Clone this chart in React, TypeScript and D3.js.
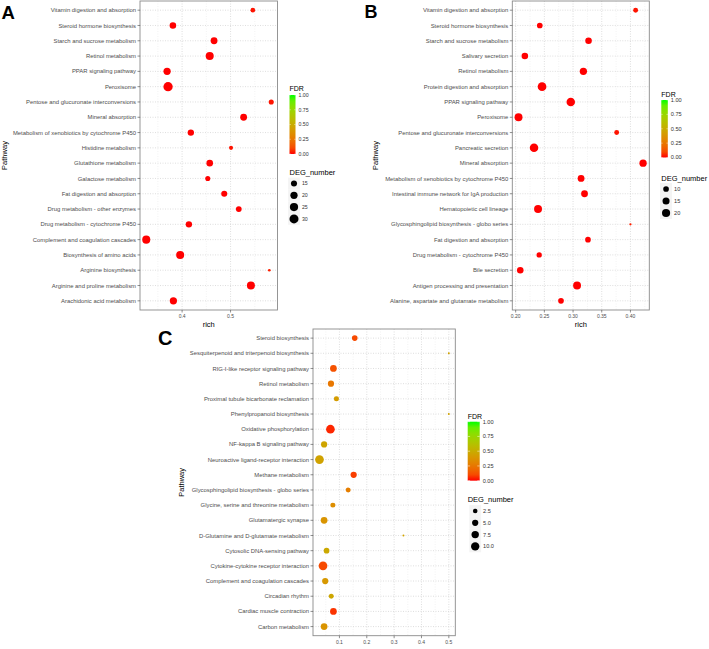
import React from "react";
import * as d3 from "d3";

const pathwaysA = [
  "Vitamin digestion and absorption",
  "Steroid hormone biosynthesis",
  "Starch and sucrose metabolism",
  "Retinol metabolism",
  "PPAR signaling pathway",
  "Peroxisome",
  "Pentose and glucuronate interconversions",
  "Mineral absorption",
  "Metabolism of xenobiotics by cytochrome P450",
  "Histidine metabolism",
  "Glutathione metabolism",
  "Galactose metabolism",
  "Fat digestion and absorption",
  "Drug metabolism - other enzymes",
  "Drug metabolism - cytochrome P450",
  "Complement and coagulation cascades",
  "Biosynthesis of amino acids",
  "Arginine biosynthesis",
  "Arginine and proline metabolism",
  "Arachidonic acid metabolism",
];
const richA = [0.546, 0.381, 0.466, 0.457, 0.369, 0.371, 0.584, 0.527, 0.418, 0.501, 0.457, 0.453, 0.487, 0.517, 0.414, 0.326, 0.396, 0.58, 0.542, 0.382];
const degA = [11, 17, 18, 24, 20, 32, 12, 18, 16, 10, 17, 12, 15, 14, 16, 24, 24, 9, 24, 20];
const fdrA = [0.01, 0.0, 0.0, 0.0, 0.0, 0.0, 0.01, 0.0, 0.0, 0.01, 0.0, 0.0, 0.0, 0.0, 0.0, 0.0, 0.0, 0.02, 0.0, 0.0];
const sizeLegendA = [15, 20, 25, 30];

const pathwaysB = [
  "Vitamin digestion and absorption",
  "Steroid hormone biosynthesis",
  "Starch and sucrose metabolism",
  "Salivary secretion",
  "Retinol metabolism",
  "Protein digestion and absorption",
  "PPAR signaling pathway",
  "Peroxisome",
  "Pentose and glucuronate interconversions",
  "Pancreatic secretion",
  "Mineral absorption",
  "Metabolism of xenobiotics by cytochrome P450",
  "Intestinal immune network for IgA production",
  "Hematopoietic cell lineage",
  "Glycosphingolipid biosynthesis - globo series",
  "Fat digestion and absorption",
  "Drug metabolism - cytochrome P450",
  "Bile secretion",
  "Antigen processing and presentation",
  "Alanine, aspartate and glutamate metabolism",
];
const richB = [0.409, 0.242, 0.327, 0.216, 0.318, 0.246, 0.296, 0.205, 0.376, 0.232, 0.422, 0.314, 0.32, 0.239, 0.4, 0.326, 0.241, 0.208, 0.307, 0.279];
const degB = [8, 10, 13, 13, 16, 23, 22, 19, 8, 22, 16, 14, 14, 19, 5, 10, 9, 13, 19, 10];
const fdrB = [0.01, 0.0, 0.0, 0.0, 0.0, 0.0, 0.0, 0.0, 0.01, 0.0, 0.0, 0.0, 0.0, 0.0, 0.02, 0.0, 0.0, 0.0, 0.0, 0.0];
const sizeLegendB = [10, 15, 20];

const pathwaysC = [
  "Steroid biosynthesis",
  "Sesquiterpenoid and triterpenoid biosynthesis",
  "RIG-I-like receptor signaling pathway",
  "Retinol metabolism",
  "Proximal tubule bicarbonate reclamation",
  "Phenylpropanoid biosynthesis",
  "Oxidative phosphorylation",
  "NF-kappa B signaling pathway",
  "Neuroactive ligand-receptor interaction",
  "Methane metabolism",
  "Glycosphingolipid biosynthesis - globo series",
  "Glycine, serine and threonine metabolism",
  "Glutamatergic synapse",
  "D-Glutamine and D-glutamate metabolism",
  "Cytosolic DNA-sensing pathway",
  "Cytokine-cytokine receptor interaction",
  "Complement and coagulation cascades",
  "Circadian rhythm",
  "Cardiac muscle contraction",
  "Carbon metabolism",
];
const richC = [0.156, 0.5, 0.078, 0.069, 0.089, 0.5, 0.067, 0.044, 0.027, 0.152, 0.132, 0.076, 0.044, 0.334, 0.053, 0.04, 0.048, 0.07, 0.078, 0.044];
const degC = [4, 1, 6, 5, 3, 1, 11, 5, 11, 5, 3, 3, 6, 1, 4, 11, 5, 3, 6, 6];
const fdrC = [0.1, 0.45, 0.12, 0.25, 0.42, 0.45, 0.03, 0.46, 0.45, 0.07, 0.28, 0.35, 0.38, 0.45, 0.48, 0.1, 0.4, 0.47, 0.05, 0.38];
const sizeLegendC = [2.5, 5, 7.5, 10];

const fdrLegendTicks = [0, 0.25, 0.5, 0.75, 1];

const FONT = "'Liberation Sans', Arial, Helvetica, sans-serif";
const colorOf = (f: number) => d3.interpolateLab("#ff0000", "#00ff00")(f);

type PanelProps = {
  id: string;
  letter: string;
  letterX: number;
  letterY: number;
  letterSize: number;
  pathways: string[];
  rich: number[];
  deg: number[];
  fdr: number[];
  sizeLegend: number[];
  left: number;
  right: number;
  top: number;
  bottom: number;
  tickStep: number;
  fmt: string;
  sizeRange: [number, number];
  legendX: number;
  fdrTitleY: number;
  barTop: number;
  barBottom: number;
  barW: number;
  degTitleY: number;
  dotY0: number;
  dotStep: number;
  yTitleX: number;
  showXTitle: boolean;
  labelSize: number;
  tickSize: number;
  legendLabelSize: number;
  legendFmt: string;
};

function Panel(p: PanelProps) {
  const [mn, mx] = d3.extent(p.rich) as [number, number];
  const pad = (mx - mn) * 0.05;
  const x = d3.scaleLinear().domain([mn - pad, mx + pad]).range([p.left, p.right]);
  const y = d3.scalePoint<string>().domain(p.pathways).range([p.top, p.bottom]).padding(0.6);
  const [dmin, dmax] = d3.extent(p.deg) as [number, number];
  const t = d3.scaleLinear().domain([dmin, dmax]).range([0, 1]).clamp(true);
  const diam = (v: number) => p.sizeRange[0] + Math.sqrt(t(v)) * (p.sizeRange[1] - p.sizeRange[0]);

  const [d0, d1] = x.domain();
  const major = d3.range(Math.ceil(d0 / p.tickStep - 1e-9) * p.tickStep, d1 + 1e-9, p.tickStep).filter((v) => v >= d0 && v <= d1);
  const minorAll = d3.range(Math.ceil(d0 / (p.tickStep / 2)) * (p.tickStep / 2), d1, p.tickStep / 2);
  const minor = minorAll.filter((v) => v >= d0 && v <= d1 && !major.some((m) => Math.abs(m - v) < 1e-9));
  const fmt = d3.format(p.fmt);

  const barScale = d3.scaleLinear().domain([0, 1]).range([p.barBottom, p.barTop]);
  const gradId = "grad" + p.id;
  const stops = d3.range(0, 1.0001, 0.1);

  const order = d3.range(p.pathways.length);

  return (
    <g>
      <text x={p.letterX} y={p.letterY} fontSize={p.letterSize} fontWeight="bold" fontFamily={FONT} fill="#000">
        {p.letter}
      </text>
      <rect x={p.left} y={p.top} width={p.right - p.left} height={p.bottom - p.top} fill="#ffffff" />
      {minor.map((v) => (
        <line key={"mi" + v} x1={x(v)} x2={x(v)} y1={p.top} y2={p.bottom} stroke="#e6e6e6" strokeWidth={0.5} strokeDasharray="1,1.5" />
      ))}
      {major.map((v) => (
        <line key={"ma" + v} x1={x(v)} x2={x(v)} y1={p.top} y2={p.bottom} stroke="#d0d0d0" strokeWidth={0.7} strokeDasharray="1,1.5" />
      ))}
      {p.pathways.map((c) => (
        <line key={"h" + c} x1={p.left} x2={p.right} y1={y(c)} y2={y(c)} stroke="#d0d0d0" strokeWidth={0.7} strokeDasharray="1,1.5" />
      ))}
      {order.map((i) => (
        <circle key={"pt" + i} cx={x(p.rich[i])} cy={y(p.pathways[i])} r={diam(p.deg[i]) / 2} fill={colorOf(p.fdr[i])} />
      ))}
      <rect x={p.left} y={p.top} width={p.right - p.left} height={p.bottom - p.top} fill="none" stroke="#8a8a8a" strokeWidth={0.9} />
      {p.pathways.map((c) => (
        <g key={"yl" + c}>
          <line x1={p.left - 2.5} x2={p.left} y1={y(c)} y2={y(c)} stroke="#444" strokeWidth={0.6} />
          <text x={p.left - 4} y={y(c)} dy="0.35em" textAnchor="end" fontSize={p.labelSize} fontFamily={FONT} fill="#4d4d4d">
            {c}
          </text>
        </g>
      ))}
      {major.map((v) => (
        <g key={"xl" + v}>
          <line x1={x(v)} x2={x(v)} y1={p.bottom} y2={p.bottom + 2.5} stroke="#444" strokeWidth={0.6} />
          <text x={x(v)} y={p.bottom + 4.5} dy="0.75em" textAnchor="middle" fontSize={p.tickSize} fontFamily={FONT} fill="#4d4d4d">
            {fmt(v)}
          </text>
        </g>
      ))}
      {p.showXTitle && (
        <text x={(p.left + p.right) / 2} y={p.bottom + 16.5} textAnchor="middle" fontSize={7.5} fontFamily={FONT} fill="#000">
          rich
        </text>
      )}
      <text
        transform={`translate(${p.yTitleX},${(p.top + p.bottom) / 2}) rotate(-90)`}
        textAnchor="middle"
        dy="0.35em"
        fontSize={7.5}
        fontFamily={FONT}
        fill="#000"
      >
        Pathway
      </text>

      <defs>
        <linearGradient id={gradId} x1="0" y1="1" x2="0" y2="0">
          {stops.map((s) => (
            <stop key={s} offset={s} stopColor={colorOf(s)} />
          ))}
        </linearGradient>
      </defs>
      <text x={p.legendX} y={p.fdrTitleY} fontSize={7} fontFamily={FONT} fill="#000">
        FDR
      </text>
      <rect x={p.legendX} y={p.barTop} width={p.barW} height={p.barBottom - p.barTop} fill={`url(#${gradId})`} />
      {fdrLegendTicks.map((v) => (
        <g key={"ft" + v}>
          <line x1={p.legendX} x2={p.legendX + p.barW * 0.2} y1={barScale(v)} y2={barScale(v)} stroke="#fff" strokeWidth={0.5} />
          <line x1={p.legendX + p.barW * 0.8} x2={p.legendX + p.barW} y1={barScale(v)} y2={barScale(v)} stroke="#fff" strokeWidth={0.5} />
          <text x={p.legendX + p.barW + 3} y={barScale(v)} dy="0.35em" fontSize={p.legendLabelSize} fontFamily={FONT} fill="#333">
            {d3.format(".2f")(v)}
          </text>
        </g>
      ))}
      <text x={p.legendX} y={p.degTitleY} fontSize={7.5} fontFamily={FONT} fill="#000">
        DEG_number
      </text>
      {p.sizeLegend.map((v, i) => {
        const cy = p.dotY0 + i * p.dotStep;
        const cx = p.legendX + p.barW / 2 + 1.5;
        return (
          <g key={"sl" + v}>
            <rect x={cx - p.dotStep / 2} y={cy - p.dotStep / 2} width={p.dotStep} height={p.dotStep} fill="#f4f4f4" />
            <circle cx={cx} cy={cy} r={diam(v) / 2} fill="#000" />
            <text x={cx + p.dotStep / 2 + 2} y={cy} dy="0.35em" fontSize={p.legendLabelSize} fontFamily={FONT} fill="#333">
              {d3.format(p.legendFmt)(v)}
            </text>
          </g>
        );
      })}
    </g>
  );
}

export default function App() {
  return (
    <svg width={709} height={649} style={{ position: "absolute", left: 0, top: 0, background: "#ffffff" }}>
      <Panel
        id="A"
        letter="A"
        letterX={1.5}
        letterY={18.5}
        letterSize={18.5}
        pathways={pathwaysA}
        rich={richA}
        deg={degA}
        fdr={fdrA}
        sizeLegend={sizeLegendA}
        left={140}
        right={277.5}
        top={1}
        bottom={310}
        tickStep={0.1}
        fmt=".1f"
        sizeRange={[2.7, 9.3]}
        legendX={289.5}
        fdrTitleY={91}
        barTop={95}
        barBottom={154}
        barW={6}
        degTitleY={174.5}
        dotY0={183.5}
        dotStep={11.8}
        yTitleX={4.5}
        showXTitle={true}
        labelSize={5.9}
        tickSize={5}
        legendLabelSize={5.2}
        legendFmt="d"
      />
      <Panel
        id="B"
        letter="B"
        letterX={364.5}
        letterY={18}
        letterSize={18}
        pathways={pathwaysB}
        rich={richB}
        deg={degB}
        fdr={fdrB}
        sizeLegend={sizeLegendB}
        left={512.3}
        right={649.3}
        top={1}
        bottom={310}
        tickStep={0.05}
        fmt=".2f"
        sizeRange={[2.3, 8.7]}
        legendX={661.3}
        fdrTitleY={97}
        barTop={100}
        barBottom={157.5}
        barW={6.5}
        degTitleY={180.5}
        dotY0={189}
        dotStep={12}
        yTitleX={375}
        showXTitle={true}
        labelSize={5.9}
        tickSize={5}
        legendLabelSize={5.6}
        legendFmt="d"
      />
      <Panel
        id="C"
        letter="C"
        letterX={158}
        letterY={345}
        letterSize={20}
        pathways={pathwaysC}
        rich={richC}
        deg={degC}
        fdr={fdrC}
        sizeLegend={sizeLegendC}
        left={313}
        right={455.3}
        top={329}
        bottom={635.7}
        tickStep={0.1}
        fmt=".1f"
        sizeRange={[2.0, 8.7]}
        legendX={467.7}
        fdrTitleY={419}
        barTop={421.7}
        barBottom={480.7}
        barW={12}
        degTitleY={501.5}
        dotY0={511}
        dotStep={11.8}
        yTitleX={181.7}
        showXTitle={false}
        labelSize={5.9}
        tickSize={5}
        legendLabelSize={5.6}
        legendFmt=".1f"
      />
    </svg>
  );
}
